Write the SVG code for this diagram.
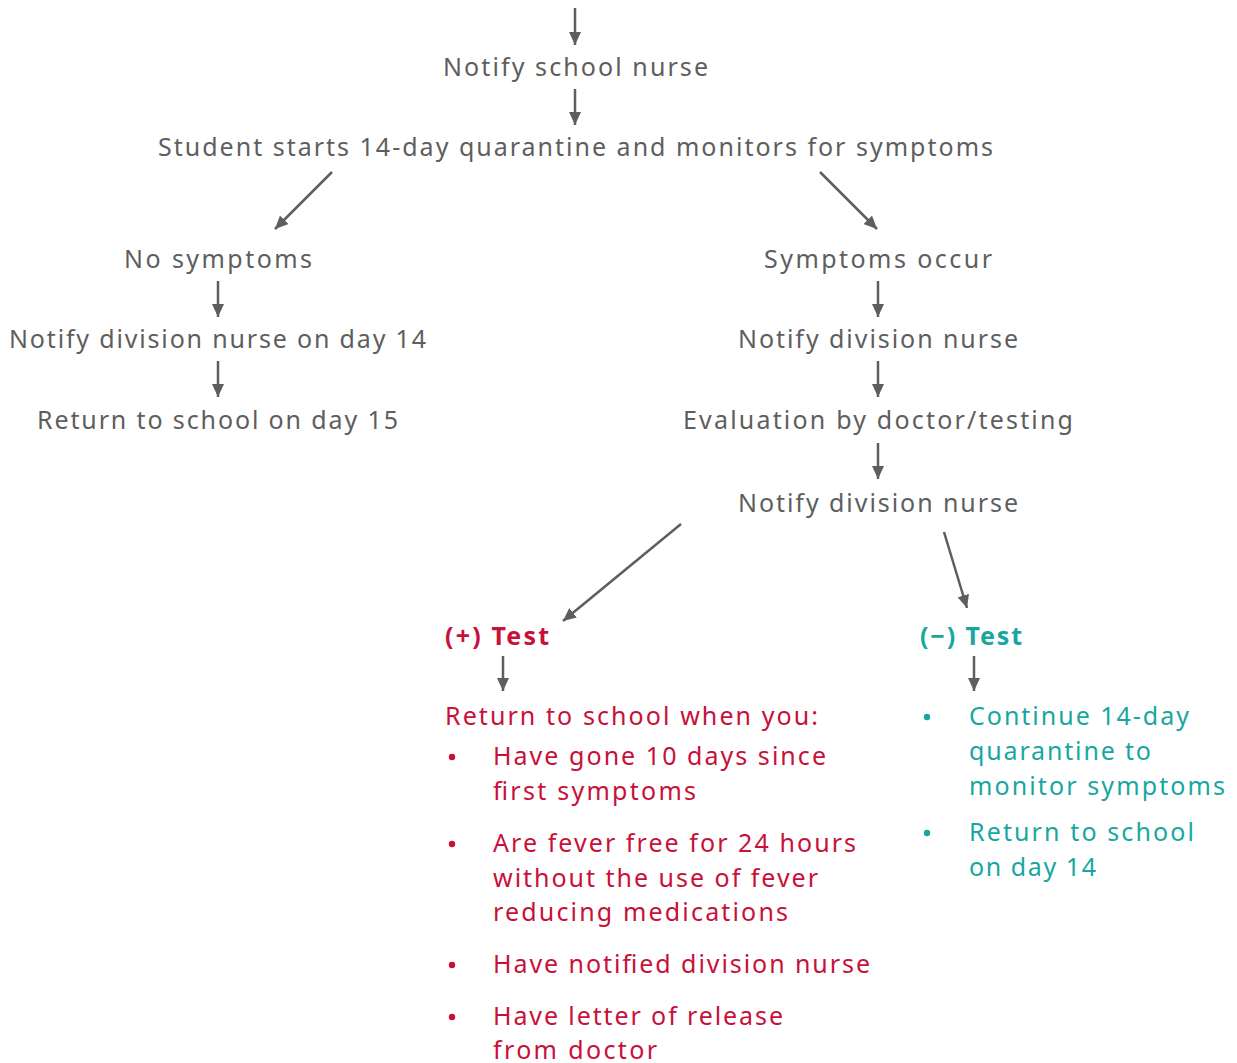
<svg xmlns="http://www.w3.org/2000/svg" width="1237" height="1063" viewBox="0 0 1237 1063">
<style>
text{font-family:"Noto Sans","Liberation Sans",sans-serif;font-size:25px;}
.g{fill:#5e5e5e;}
.r{fill:#c8103a;}
.t{fill:#18a79f;}
.b{font-weight:bold;}
.c{text-anchor:middle;}
.ln{stroke:#5e5e5e;stroke-width:2.5;fill:none;marker-end:url(#ah);}
</style>
<defs>
<marker id="ah" markerUnits="userSpaceOnUse" markerWidth="14" markerHeight="12" refX="13" refY="6" orient="auto">
<path d="M0,0 L13,6 L0,12 Z" fill="#5e5e5e"/>
</marker>
</defs>
<g id="connectors">
<line class="ln" x1="575" y1="8" x2="575" y2="45"/>
<line class="ln" x1="575" y1="89" x2="575" y2="125"/>
<line class="ln" x1="332" y1="172" x2="275" y2="229"/>
<line class="ln" x1="820" y1="172" x2="877" y2="229"/>
<line class="ln" x1="218" y1="281" x2="218" y2="317"/>
<line class="ln" x1="218" y1="361" x2="218" y2="397"/>
<line class="ln" x1="878" y1="281" x2="878" y2="317"/>
<line class="ln" x1="878" y1="361" x2="878" y2="397"/>
<line class="ln" x1="878" y1="443" x2="878" y2="479"/>
<line class="ln" x1="681" y1="524" x2="563" y2="621"/>
<line class="ln" x1="944" y1="532" x2="967" y2="608"/>
<line class="ln" x1="503" y1="656" x2="503" y2="691"/>
<line class="ln" x1="974" y1="656" x2="974" y2="691"/>
</g>
<g id="n-notify-school"><text class="g" x="443" y="76" textLength="265" lengthAdjust="spacing">Notify school nurse</text></g>
<g id="n-quarantine"><text class="g" x="158" y="156" textLength="835" lengthAdjust="spacing">Student starts 14-day quarantine and monitors for symptoms</text></g>
<g id="n-no-symptoms"><text class="g" x="124" y="268" textLength="188" lengthAdjust="spacing">No symptoms</text></g>
<g id="n-notify-day14"><text class="g" x="9" y="348" textLength="417" lengthAdjust="spacing">Notify division nurse on day 14</text></g>
<g id="n-return-day15"><text class="g" x="37" y="429" textLength="361" lengthAdjust="spacing">Return to school on day 15</text></g>
<g id="n-symptoms-occur"><text class="g" x="764" y="268" textLength="228" lengthAdjust="spacing">Symptoms occur</text></g>
<g id="n-notify-division-1"><text class="g" x="738" y="348" textLength="280" lengthAdjust="spacing">Notify division nurse</text></g>
<g id="n-evaluation"><text class="g" x="683" y="429" textLength="390" lengthAdjust="spacing">Evaluation by doctor/testing</text></g>
<g id="n-notify-division-2"><text class="g" x="738" y="512" textLength="280" lengthAdjust="spacing">Notify division nurse</text></g>
<g id="n-positive">
<text class="r b" x="445" y="645" textLength="104" lengthAdjust="spacing">(+) Test</text>
</g>
<g id="n-positive-list">
<text class="r" x="445" y="725" textLength="373" lengthAdjust="spacing">Return to school when you:</text>
<circle class="r" cx="452" cy="757" r="3.2"/>
<text class="r" x="493" y="765" textLength="333" lengthAdjust="spacing">Have gone 10 days since</text>
<text class="r" x="493" y="800" textLength="203" lengthAdjust="spacing">first symptoms</text>
<circle class="r" cx="452" cy="844" r="3.2"/>
<text class="r" x="493" y="852" textLength="363" lengthAdjust="spacing">Are fever free for 24 hours</text>
<text class="r" x="493" y="887" textLength="325" lengthAdjust="spacing">without the use of fever</text>
<text class="r" x="493" y="921" textLength="295" lengthAdjust="spacing">reducing medications</text>
<circle class="r" cx="452" cy="965" r="3.2"/>
<text class="r" x="493" y="973" textLength="377" lengthAdjust="spacing">Have notified division nurse</text>
<circle class="r" cx="452" cy="1017" r="3.2"/>
<text class="r" x="493" y="1025" textLength="290" lengthAdjust="spacing">Have letter of release</text>
<text class="r" x="493" y="1059" textLength="164" lengthAdjust="spacing">from doctor</text>
</g>
<g id="n-negative">
<text class="t b" x="920" y="645" textLength="102" lengthAdjust="spacing">(−) Test</text>
</g>
<g id="n-negative-list">
<circle class="t" cx="927" cy="717" r="3.2"/>
<text class="t" x="969" y="725" textLength="220" lengthAdjust="spacing">Continue 14-day</text>
<text class="t" x="969" y="760" textLength="182" lengthAdjust="spacing">quarantine to</text>
<text class="t" x="969" y="795" textLength="256" lengthAdjust="spacing">monitor symptoms</text>
<circle class="t" cx="927" cy="833" r="3.2"/>
<text class="t" x="969" y="841" textLength="225" lengthAdjust="spacing">Return to school</text>
<text class="t" x="969" y="876" textLength="127" lengthAdjust="spacing">on day 14</text>
</g>
</svg>
